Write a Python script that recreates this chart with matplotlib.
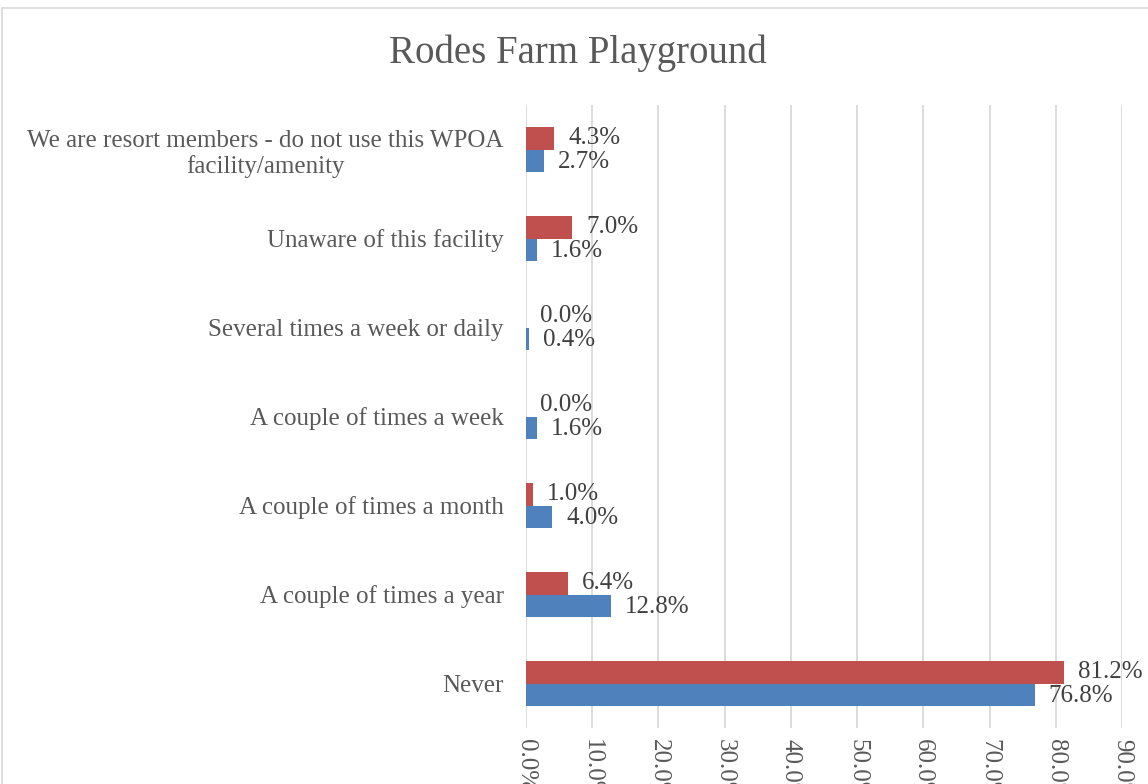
import matplotlib.pyplot as plt
from matplotlib.patches import Rectangle
import numpy as np

# categories, bottom to top
categories = ["Never",
              "A couple of times a year",
              "A couple of times a month",
              "A couple of times a week",
              "Several times a week or daily",
              "Unaware of this facility",
              "We are resort members - do not use this WPOA\nfacility/amenity"]
red_vals = [81.2, 6.4, 1.0, 0.0, 0.0, 7.0, 4.3]
blue_vals = [76.8, 12.8, 4.0, 1.6, 0.4, 1.6, 2.7]
x_ticks = [0, 10, 20, 30, 40, 50, 60, 70, 80, 90]

text_col = "#595959"
plt.rcParams['font.family'] = ['Liberation Serif', 'DejaVu Serif']

fig = plt.figure(figsize=(11.48, 7.84), dpi=100)
ax = fig.add_axes([526/1148, 1 - 728/784, (1122 - 526)/1148, (728 - 105)/784])

# chart border (cropped off on the right and bottom)
fig.patches.append(Rectangle((2/1148, -0.5), 2, 1.5 - 8/784, transform=fig.transFigure,
                             fill=False, edgecolor="#D9D9D9", linewidth=1.2))

y = np.arange(len(categories))
h = 0.25
ax.barh(y - h/2, blue_vals, height=h, color="#4F81BD", zorder=3)
ax.barh(y + h/2, red_vals, height=h, color="#C0504D", zorder=3)

for yi, rv, bv in zip(y, red_vals, blue_vals):
    ax.annotate(f"{rv:.1f}%", (rv, yi + h/2), xytext=(10, 0), textcoords="offset points",
                va="center", ha="left", fontsize=18, color="#404040")
    ax.annotate(f"{bv:.1f}%", (bv, yi - h/2), xytext=(10, -1), textcoords="offset points",
                va="center", ha="left", fontsize=18, color="#404040")

ax.set_xlim(0, 90)
ax.set_ylim(-0.5, len(categories) - 0.5)
ax.set_xticks(x_ticks)
ax.set_xticklabels([f"{t:.1f}%" for t in x_ticks], rotation=-90, fontsize=18, color=text_col)
ax.set_yticks(y)
ax.set_yticklabels(categories, fontsize=18, color=text_col, ha="right", multialignment="center")
ax.tick_params(axis="x", length=0, pad=8)
ax.tick_params(axis="y", length=0, pad=16)
ax.grid(axis="x", color="#D9D9D9", linewidth=1.3, zorder=0)
for s in ax.spines.values():
    s.set_visible(False)

fig.text(578/1148, 1 - 53/784, "Rodes Farm Playground", ha="center", va="center",
         fontsize=28, color=text_col)

fig.savefig("out.png", dpi=100)
